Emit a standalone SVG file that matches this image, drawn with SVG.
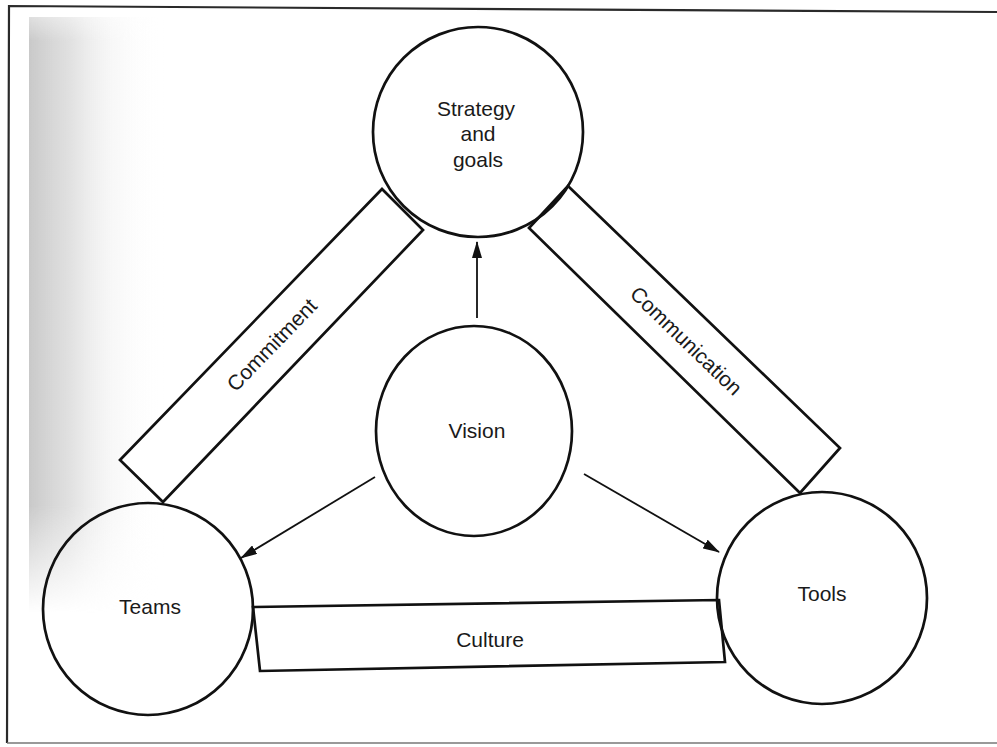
<svg xmlns="http://www.w3.org/2000/svg" width="997" height="747" viewBox="0 0 997 747">
  <defs>
    <style>
      .node { fill: none; stroke: #111; stroke-width: 2.7; }
      .band { fill: #fff; stroke: #111; stroke-width: 2.7; stroke-linejoin: miter; }
      .edge { fill: none; stroke: #111; stroke-width: 1.8; }
      .label { font-family: "Liberation Sans", Arial, sans-serif; font-size: 21px; fill: #1a1a1a; text-anchor: middle; }
      .frame { fill: none; stroke: #2a2a2a; stroke-width: 2.2; }
    </style>
    <marker id="arrow" markerUnits="userSpaceOnUse" markerWidth="17" markerHeight="10" refX="16" refY="5" orient="auto">
      <path d="M0,0 L17,5 L0,10 Z" fill="#111"/>
    </marker>
    <!-- grey tone along the left margin of the page -->
    <linearGradient id="edgeTone" x1="0" y1="0" x2="1" y2="0">
      <stop offset="0" stop-color="#c9c9c9" stop-opacity="1"/>
      <stop offset="0.3" stop-color="#d6d6d6" stop-opacity="0.75"/>
      <stop offset="0.6" stop-color="#e8e8e8" stop-opacity="0.35"/>
      <stop offset="1" stop-color="#ffffff" stop-opacity="0"/>
    </linearGradient>
    <linearGradient id="edgeFadeV" x1="0" y1="0" x2="0" y2="1">
      <stop offset="0" stop-color="#fff" stop-opacity="0.6"/>
      <stop offset="0.04" stop-color="#fff" stop-opacity="1"/>
      <stop offset="0.82" stop-color="#fff" stop-opacity="1"/>
      <stop offset="1" stop-color="#fff" stop-opacity="0"/>
    </linearGradient>
    <mask id="edgeMask">
      <rect x="29" y="17" width="135" height="596" fill="url(#edgeFadeV)"/>
    </mask>
  </defs>

  <rect width="997" height="747" fill="#fff"/>
  <rect x="29" y="17" width="135" height="596" fill="url(#edgeTone)" mask="url(#edgeMask)"/>

  <!-- page frame -->
  <path class="frame" d="M997,12 L9,6 L7,743"/>
  <path d="M7,743 L997,743" fill="none" stroke="#777" stroke-width="1.6"/>

  <!-- connecting bands between the outer nodes -->
  <g id="connectors">
    <g id="band-commitment">
      <polygon class="band" points="120,460 382,189 423,230 163,502"/>
      <text class="label" x="272" y="352" transform="rotate(-46 272 345)">Commitment</text>
    </g>
    <g id="band-communication">
      <polygon class="band" points="568,186 840,448 800,493 529,228"/>
      <text class="label" x="686" y="348" transform="rotate(44 686 341)">Communication</text>
    </g>
    <g id="band-culture">
      <polygon class="band" points="253,607 719,600 725,662 260,671"/>
      <text class="label" x="490" y="647">Culture</text>
    </g>
    <line id="edge-vision-strategy" class="edge" x1="477" y1="318" x2="477" y2="242" marker-end="url(#arrow)"/>
    <line id="edge-vision-teams" class="edge" x1="375" y1="477" x2="241" y2="558" marker-end="url(#arrow)"/>
    <line id="edge-vision-tools" class="edge" x1="584" y1="474" x2="719" y2="552" marker-end="url(#arrow)"/>
  </g>

  <g id="node-strategy">
    <circle class="node" cx="478" cy="132" r="105"/>
    <text class="label" x="476" y="116">Strategy</text>
    <text class="label" x="478" y="141">and</text>
    <text class="label" x="478" y="167">goals</text>
  </g>

  <g id="node-vision">
    <ellipse class="node" cx="474" cy="431" rx="98" ry="105"/>
    <text class="label" x="477" y="438">Vision</text>
  </g>

  <g id="node-teams">
    <ellipse class="node" cx="148" cy="609" rx="105" ry="106"/>
    <text class="label" x="150" y="614">Teams</text>
  </g>

  <g id="node-tools">
    <ellipse class="node" cx="822" cy="598" rx="105" ry="106"/>
    <text class="label" x="822" y="601">Tools</text>
  </g>
</svg>
